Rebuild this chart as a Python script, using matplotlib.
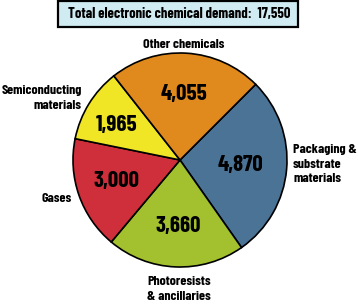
import matplotlib
matplotlib.use("Agg")
import matplotlib.pyplot as plt
from matplotlib.patches import Rectangle

# data
categories = ["Packaging &\nsubstrate\nmaterials", "Photoresists\n& ancillaries", "Gases",
              "Semiconducting\nmaterials", "Other chemicals"]
values = [4870, 3660, 3000, 1965, 4055]
value_labels = ["4,870", "3,660", "3,000", "1,965", "4,055"]
colors = ["#4A7396", "#A3C12E", "#CE2F3A", "#F0E626", "#E08A1E"]
total_label = "Total electronic chemical demand:  17,550"

W, H = 358, 305
plt.rcParams['font.family'] = ['Barlow Condensed', 'Roboto Condensed', 'DejaVu Sans']
plt.rcParams['font.weight'] = 'bold'
plt.rcParams['font.stretch'] = 'condensed'

fig = plt.figure(figsize=(W / 100, H / 100), dpi=100)
ax = fig.add_axes([0, 0, 1, 1])
ax.set_xlim(0, W)
ax.set_ylim(0, H)
ax.set_aspect("equal")
ax.axis("off")


def py(y):
    # pixel row -> data y
    return H - y


ax.pie(values, colors=colors, startangle=45, counterclock=False,
       center=(180, py(160)), radius=107,
       wedgeprops=dict(edgecolor="black", linewidth=1.2))
ax.set_xlim(0, W)
ax.set_ylim(0, H)

# numbers inside wedges
num_pos = [(240, 165), (178, 226), (116, 181), (117, 125), (184, 94)]
for (x, y), s in zip(num_pos, value_labels):
    ax.text(x, py(y), s, ha="center", va="center", fontsize=16.5, fontweight="bold")

# category labels
fs = 10
ls = 1.35
ax.text(184, py(44), categories[4], ha="center", va="center", fontsize=fs)
ax.text(82, py(98), categories[3], ha="right", va="center", fontsize=fs,
        multialignment="right", linespacing=ls)
ax.text(72, py(198), categories[2], ha="right", va="center", fontsize=fs)
ax.text(293, py(164), categories[0], ha="left", va="center", fontsize=fs,
        multialignment="left", linespacing=ls)
ax.text(147, py(289), categories[1], ha="left", va="center", fontsize=fs,
        multialignment="left", linespacing=ls)

# total box
ax.add_patch(Rectangle((57.5, py(26.5)), 240.5, 25.5, facecolor="#D0ECF2",
                       edgecolor="black", linewidth=1.6, clip_on=False))
ax.text(179, py(14), total_label, ha="center", va="center", fontsize=10.5)

fig.savefig("out.png", dpi=100)
